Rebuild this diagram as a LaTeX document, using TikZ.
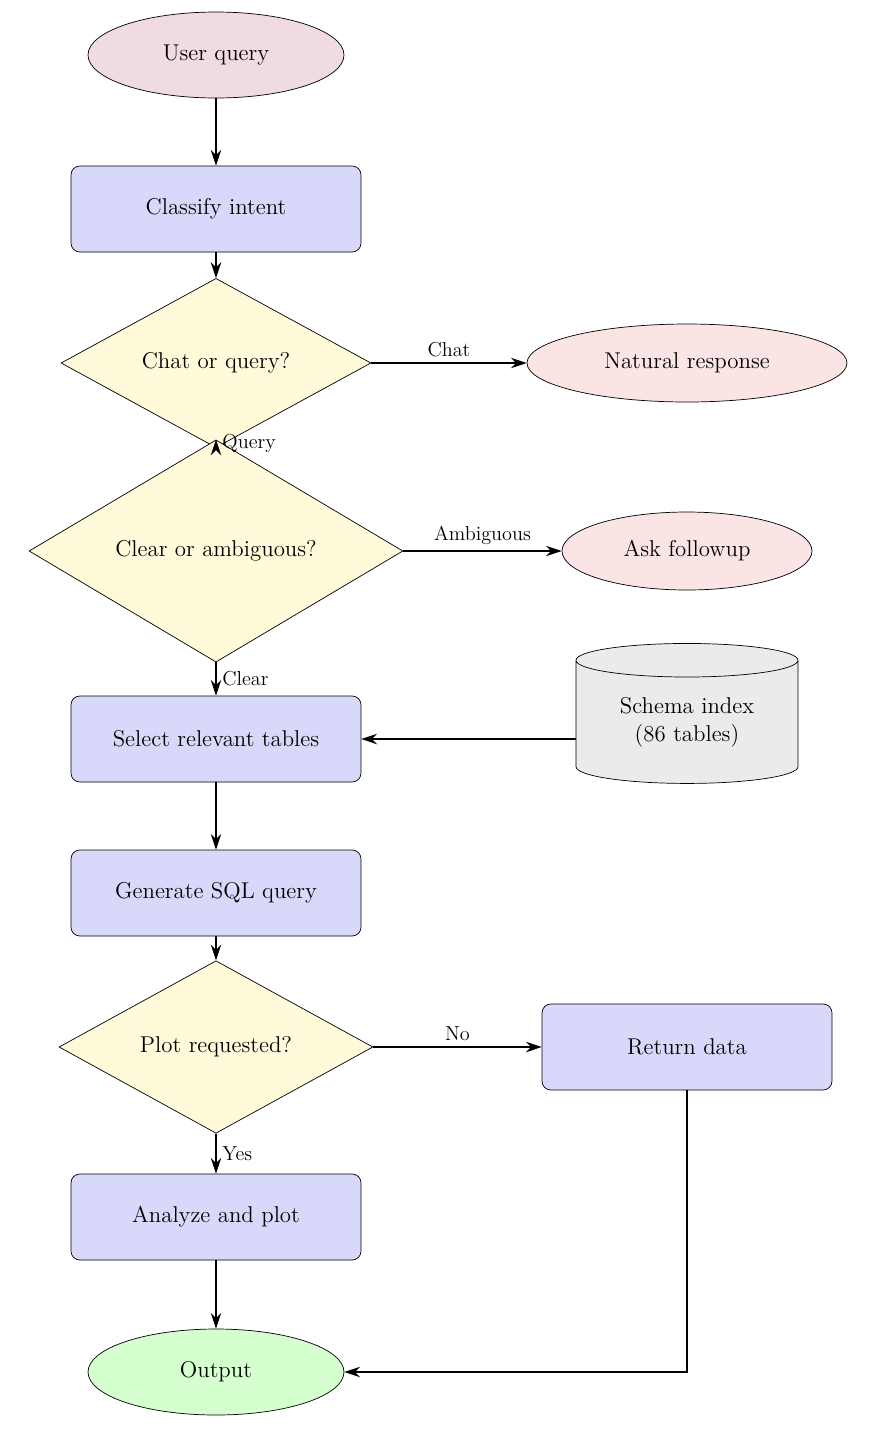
\documentclass[tikz,border=0pt]{standalone}
\usetikzlibrary{shapes.geometric,arrows.meta}
\definecolor{cpink}{RGB}{240,218,228}
\definecolor{cpink2}{RGB}{250,228,228}
\definecolor{cblue}{RGB}{216,216,250}
\definecolor{cyel}{RGB}{255,250,218}
\definecolor{cgray}{RGB}{235,235,235}
\definecolor{cgreen}{RGB}{214,255,208}
\begin{document}
\begin{tikzpicture}[x=0.02cm,y=-0.02cm,
  base/.style={draw,inner sep=0pt,font=\fontsize{13}{16}\selectfont,align=center},
  ell/.style={base,ellipse,minimum width=#1*0.02cm},
  box/.style={base,rectangle,rounded corners=5pt,fill=cblue,minimum width=5.8cm,minimum height=1.72cm},
  dia/.style={base,diamond,fill=cyel},
  arr/.style={-{Stealth[length=9pt,width=6pt]},semithick},
  lab/.style={font=\fontsize{11.5}{14}\selectfont}]
\useasboundingbox (0,0) rectangle (872,1438);
\node[ell=256,minimum height=1.72cm,fill=cpink] (uq) at (216,55) {User query};
\node[box] (ci) at (216,209) {Classify intent};
\node[dia,minimum width=6.2cm,minimum height=2.56cm] (cq) at (216,363) {Chat or query?};
\node[ell=320,minimum height=1.56cm,fill=cpink2] (nr) at (687,363) {Natural response};
\node[dia,minimum width=7.48cm,minimum height=3.12cm] (ca) at (216,551) {Clear or ambiguous?};
\node[ell=250,minimum height=1.56cm,fill=cpink2] (af) at (687,551) {Ask followup};
\node[box] (st) at (216,739) {Select relevant tables};
\node[base,cylinder,shape border rotate=90,aspect=0.25,fill=cgray,minimum width=4.44cm,minimum height=2.8cm] (si) at (687,722) {Schema index\\(86 tables)};
\node[box] (gs) at (216,893) {Generate SQL query};
\node[dia,minimum width=6.28cm,minimum height=2.6cm] (pr) at (216,1047) {Plot requested?};
\node[box] (rd) at (687,1047) {Return data};
\node[box] (ap) at (216,1217) {Analyze and plot};
\node[ell=256,minimum height=1.72cm,fill=cgreen] (out) at (216,1372) {Output};
\draw[arr] (uq) -- (ci);
\draw[arr] (ci) -- (cq);
\draw[arr] (cq) -- node[lab,above]{Chat} (nr);
\draw[arr] (cq) -- node[lab,right]{Query} (ca);
\draw[arr] (ca) -- node[lab,above]{Ambiguous} (af);
\draw[arr] (ca) -- node[lab,right]{Clear} (st);
\draw[arr] (si.west |- st) -- (st);
\draw[arr] (st) -- (gs);
\draw[arr] (gs) -- (pr);
\draw[arr] (pr) -- node[lab,above]{No} (rd);
\draw[arr] (pr) -- node[lab,right]{Yes} (ap);
\draw[arr] (ap) -- (out);
\draw[arr] (rd) |- (out);
\end{tikzpicture}
\end{document}
